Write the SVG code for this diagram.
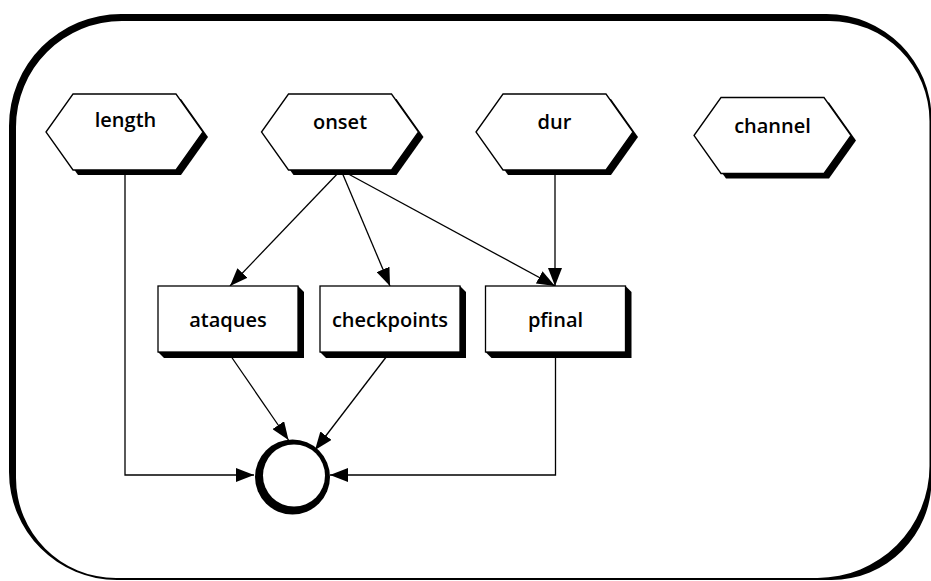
<svg xmlns="http://www.w3.org/2000/svg" width="931" height="581" viewBox="0 0 931 581">
  <style>
    .lbl { font-family: "Open Sans", "DejaVu Sans", sans-serif; font-weight: 600; font-size: 20px; fill: #000; text-anchor: middle; }
    .face { fill: #fff; stroke: #000; stroke-width: 1.3; }
    .shade { fill: #000; }
    .edge { fill: none; stroke: #000; stroke-width: 1.3; }
  </style>
  <defs>
    <marker id="arrow" viewBox="0 0 18 14" refX="18" refY="7" markerWidth="18" markerHeight="14" markerUnits="userSpaceOnUse" orient="auto">
      <path d="M0,0 L18,7 L0,14 z" fill="#000"/>
    </marker>
    <polygon id="hex" points="-78.5,0 -51.5,-38 51.5,-38 78.5,0 51.5,38 -51.5,38"/>
    <!-- raised box: 140x66 face with a 6px extruded edge below and right -->
    <polygon id="boxShade" points="0,0 6,6 6,72 -134,72 -140,66"/>
  </defs>

  <rect width="931" height="581" fill="#fff"/>

  <!-- outer frame: pen stroke, heavy on the top and left, light on the bottom and right -->
  <g id="frame">
    <path fill="#000" fill-rule="evenodd" d="
      M121,14 H826.5 A105,105 0 0 1 931.5,119 V480 A100,100 0 0 1 831.5,580 H117 A108,108 0 0 1 9,472 V126 A112,112 0 0 1 121,14 Z
      M122,21 H829.5 A100,100 0 0 1 929.5,121 V466 A112,112 0 0 1 817.5,578 H116 A100,100 0 0 1 16,478 V127 A106,106 0 0 1 122,21 Z"/>
  </g>

  <g id="connectors">
    <path class="edge" d="M125,170 V475 H254" marker-end="url(#arrow)"/>
    <path class="edge" d="M555.5,352 V475 H330" marker-end="url(#arrow)"/>
    <path class="edge" d="M228,352 L288.5,440" marker-end="url(#arrow)"/>
    <path class="edge" d="M390,352 L315,450" marker-end="url(#arrow)"/>
    <path class="edge" d="M341,170 L230,286" marker-end="url(#arrow)"/>
    <path class="edge" d="M341,170 L390,286" marker-end="url(#arrow)"/>
    <path class="edge" d="M341,170 L555,286" marker-end="url(#arrow)"/>
    <path class="edge" d="M555,170 V286" marker-end="url(#arrow)"/>
  </g>

  <g id="length" transform="translate(124.5,132)">
    <use href="#hex" class="shade" x="5" y="5"/>
    <use href="#hex" class="face"/>
    <text class="lbl" x="1" y="-5">length</text>
  </g>
  <g id="onset" transform="translate(340,132)">
    <use href="#hex" class="shade" x="5" y="5"/>
    <use href="#hex" class="face"/>
    <text class="lbl" x="0" y="-3">onset</text>
  </g>
  <g id="dur" transform="translate(554.5,132)">
    <use href="#hex" class="shade" x="5" y="5"/>
    <use href="#hex" class="face"/>
    <text class="lbl" x="0" y="-3">dur</text>
  </g>
  <g id="channel" transform="translate(772.5,135.5)">
    <use href="#hex" class="shade" x="5" y="5"/>
    <use href="#hex" class="face"/>
    <text class="lbl" x="0" y="-3">channel</text>
  </g>

  <g id="ataques">
    <use href="#boxShade" class="shade" x="298" y="286"/>
    <rect class="face" x="158" y="286" width="140" height="66"/>
    <text class="lbl" x="228" y="327">ataques</text>
  </g>
  <g id="checkpoints">
    <use href="#boxShade" class="shade" x="460" y="286"/>
    <rect class="face" x="320" y="286" width="140" height="66"/>
    <text class="lbl" x="390" y="327">checkpoints</text>
  </g>
  <g id="pfinal">
    <use href="#boxShade" class="shade" x="625.5" y="286"/>
    <rect class="face" x="485.5" y="286" width="140" height="66"/>
    <text class="lbl" x="555.5" y="327">pfinal</text>
  </g>

  <g id="sink">
    <circle cx="292.5" cy="477" r="37.5" fill="#000"/>
    <circle cx="294" cy="475.5" r="31" fill="#fff"/>
  </g>
</svg>
